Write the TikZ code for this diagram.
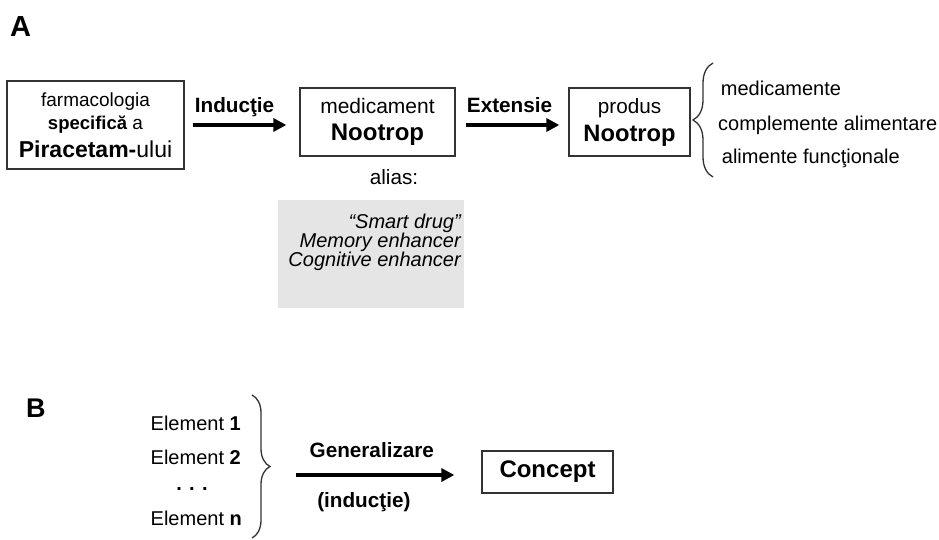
\documentclass[tikz,border=0pt]{standalone}
\usepackage{fontspec}
\setmainfont{Liberation Sans}
\usetikzlibrary{arrows.meta,positioning,calc,decorations.pathreplacing}
\newcommand\aliasfont{\fontsize{20}{19}\selectfont\itshape\lineskiplimit=-6pt\relax}
\tikzset{
  % framed box
  box/.style={
    draw=black!80,
    line width=1.3pt,
    fill=white,
    inner sep=0pt,
    align=center
  },
  % panel letters
  panel/.style={font=\fontsize{29}{30}\selectfont\bfseries, inner sep=0pt},
  % plain text
  txt/.style={font=\fontsize{20}{24}\selectfont, inner sep=0pt},
  % arrow labels
  lbl/.style={font=\fontsize{20.7}{24}\selectfont\bfseries, inner sep=0pt},
  % thick arrows
  arr/.style={-{Triangle[length=13pt,width=13pt]}, line width=4pt},
  % curly braces
  brc/.style={decorate, decoration={brace, amplitude=#1}, line width=1.3pt, black!80},
  % shaded alias area
  aliasbg/.style={fill=black!10, draw=none, minimum width=186pt, minimum height=108pt, inner sep=0pt},
}
\begin{document}
\begin{tikzpicture}[x=1pt,y=-1pt]
  \useasboundingbox (0,0) rectangle (939,540);

  % Panel A
  \node[panel, anchor=base west] (pa) at (10,37) {A};

  % Boxes
  \node[box, minimum width=177pt, minimum height=88pt, font=\fontsize{19}{23}\selectfont] (farm) at (95.5,125)
    {farmacologia\\{\fontsize{18.5}{23}\selectfont\bfseries specifică} a\\[5pt]{\fontsize{23}{23}\selectfont\bfseries Piracetam-}{\fontsize{23}{23}\selectfont ului}};
  \node[box, minimum width=155pt, minimum height=68pt, font=\fontsize{21}{27}\selectfont] (med) at (377.5,122)
    {medicament\\{\fontsize{24}{27}\selectfont\bfseries Nootrop}};
  \node[box, minimum width=121pt, minimum height=68pt, font=\fontsize{20.7}{28}\selectfont] (prod) at (629.5,122)
    {produs\\{\fontsize{23.7}{28}\selectfont\bfseries Nootrop}};

  % Arrows
  \draw[arr, shorten <=8pt, shorten >=13pt] (farm.east) --
    node[lbl, pos=.435, anchor=base, yshift=12pt] (induc) {Inducţie} (farm.east -| med.west);
  \draw[arr, shorten <=10pt, shorten >=9pt] (med.east |- farm.east) --
    node[lbl, pos=.478, anchor=base, yshift=12pt] (ext) {Extensie} (prod.west |- farm.east);

  % Brace and kinds of products
  \coordinate (ba1) at (713,177);
  \coordinate (ba2) at (713,63);
  \draw[brc=20pt] (ba1) -- (ba2);
  \node[txt, anchor=base west] (it1) at (720.7,96) {medicamente};
  \node[txt, anchor=base west] (it2) at (718,131) {complemente alimentare};
  \node[txt, anchor=base west] (it3) at (721.7,164) {alimente funcţionale};

  % Alias
  \node[txt, anchor=base, font=\fontsize{20.7}{24}\selectfont] (alias) at (394,185) {alias:};
  \node[aliasbg] (aliasbox) at (371,254) {};
  \node[anchor=north east, align=right, inner sep=0pt, font=\aliasfont] (aliastxt) at (461,214)
    {“Smart drug”\\Memory enhancer\\Cognitive enhancer};

  % Panel B
  \node[panel, font=\fontsize{27}{30}\selectfont\bfseries, anchor=base west] (pb) at (26,417) {B};

  % Elements
  \node[txt, anchor=base west] (el1) at (150.5,430) {Element \textbf{1}};
  \node[txt, anchor=base west] (el2) at (150.5,464) {Element \textbf{2}};
  \node[txt, anchor=base] (eld) at (192,490) {\textbf{. . .}};
  \node[txt, anchor=base west] (eln) at (150.5,525) {Element \textbf{n}};

  \coordinate (bb1) at (252,395);
  \coordinate (bb2) at (252,538);
  \draw[brc=18pt] (bb1) -- (bb2);

  % Concept
  \node[box, minimum width=131pt, minimum height=42pt, font=\fontsize{24}{26}\selectfont\bfseries] (concept) at (547.5,472) {Concept};

  \coordinate (gtail) at (296,475);
  \draw[arr, shorten >=27pt] (gtail) --
    node[lbl, pos=.409, anchor=base, yshift=18pt] (gen) {Generalizare}
    node[lbl, pos=.366, anchor=base, yshift=-32pt] (ind) {(inducţie)} (gtail -| concept.west);
\end{tikzpicture}
\end{document}
